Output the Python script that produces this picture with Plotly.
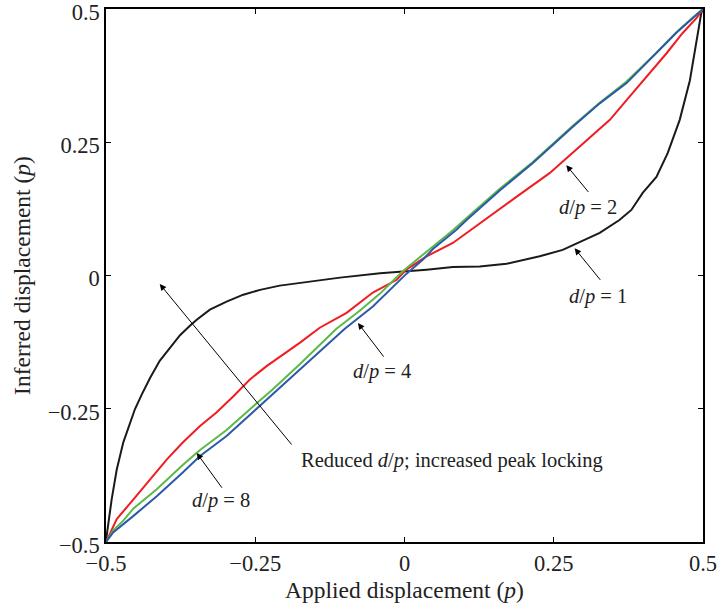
import plotly.graph_objects as go

# d/p = 1 (black)
x_dp1 = [-0.5, -0.499, -0.4905, -0.482, -0.471, -0.46, -0.4516, -0.44, -0.426, -0.41, -0.393, -0.376,
         -0.359, -0.348, -0.326, -0.298, -0.270, -0.242, -0.209, -0.175, -0.142, -0.108, -0.041, 0.003,
         0.037, 0.081, 0.126, 0.171, 0.2265, 0.265, 0.327, 0.360, 0.380, 0.399, 0.422, 0.441, 0.461,
         0.478, 0.489, 0.497, 0.5]
y_dp1 = [-0.5, -0.489, -0.42, -0.364, -0.313, -0.276, -0.251, -0.223, -0.192, -0.160, -0.135, -0.112,
         -0.094, -0.083, -0.064, -0.049, -0.036, -0.027, -0.019, -0.014, -0.008, -0.004, 0.004, 0.0075,
         0.011, 0.016, 0.017, 0.022, 0.036, 0.048, 0.080, 0.104, 0.123, 0.155, 0.185, 0.230, 0.292,
         0.366, 0.436, 0.492, 0.5]

# d/p = 2 (red)
x_dp2 = [-0.5, -0.482, -0.454, -0.426, -0.398, -0.371, -0.343, -0.315, -0.287, -0.259, -0.231, -0.203,
         -0.175, -0.142, -0.097, -0.053, -0.013, 0.003, 0.037, 0.081, 0.104, 0.137, 0.188, 0.243, 0.305,
         0.344, 0.372, 0.411, 0.439, 0.466, 0.489, 0.5]
y_dp2 = [-0.5, -0.457, -0.42, -0.383, -0.345, -0.313, -0.283, -0.257, -0.227, -0.195, -0.170, -0.148,
         -0.126, -0.098, -0.070, -0.032, -0.008, 0.011, 0.036, 0.061, 0.080, 0.106, 0.148, 0.192, 0.254,
         0.292, 0.329, 0.380, 0.417, 0.455, 0.483, 0.5]

# d/p = 4 (green)
x_dp4 = [-0.5, -0.488, -0.471, -0.454, -0.415, -0.371, -0.343, -0.298, -0.248, -0.221, -0.175, -0.114,
         -0.075, -0.041, -0.003, 0.053, 0.081, 0.104, 0.160, 0.215, 0.282, 0.327, 0.372, 0.422, 0.455,
         0.483, 0.5]
y_dp4 = [-0.5, -0.478, -0.46, -0.437, -0.401, -0.355, -0.328, -0.29, -0.24, -0.214, -0.166, -0.100,
         -0.066, -0.034, 0.008, 0.059, 0.085, 0.108, 0.163, 0.213, 0.281, 0.324, 0.364, 0.418, 0.456,
         0.484, 0.5]

# d/p = 8 (blue)
x_dp8 = [-0.5, -0.488, -0.454, -0.415, -0.371, -0.343, -0.298, -0.248, -0.203, -0.175, -0.100, -0.053,
         -0.013, 0.003, 0.031, 0.048, 0.087, 0.104, 0.160, 0.215, 0.282, 0.327, 0.372, 0.422, 0.455,
         0.483, 0.5]
y_dp8 = [-0.5, -0.482, -0.451, -0.414, -0.369, -0.339, -0.301, -0.250, -0.204, -0.176, -0.100, -0.058,
         -0.015, 0.003, 0.030, 0.050, 0.086, 0.104, 0.160, 0.211, 0.279, 0.323, 0.361, 0.417, 0.455,
         0.483, 0.5]

tick_vals = [-0.5, -0.25, 0, 0.25, 0.5]
tick_text = ["\u22120.5", "\u22120.25", "0", "0.25", "0.5"]

FONT = "Liberation Serif, Times New Roman, serif"

fig = go.Figure()
for xs, ys, col in [(x_dp1, y_dp1, "#1a1a1a"), (x_dp2, y_dp2, "#f01c24"),
                    (x_dp4, y_dp4, "#5cb947"), (x_dp8, y_dp8, "#2c59a8")]:
    fig.add_trace(go.Scatter(x=xs, y=ys, mode="lines", line=dict(color=col, width=2),
                             showlegend=False, hoverinfo="skip"))

arrows = [
    ((0.271, 0.207), (0.310, 0.154)),
    ((0.285, 0.051), (0.330, -0.011)),
    ((-0.078, -0.089), (-0.033, -0.155)),
    ((-0.348, -0.333), (-0.304, -0.401)),
    ((-0.410, -0.016), (-0.187, -0.320)),
]
for (hx, hy), (tx, ty) in arrows:
    fig.add_annotation(x=hx, y=hy, ax=tx, ay=ty, xref="x", yref="y", axref="x", ayref="y",
                       text="", showarrow=True, arrowhead=2, arrowsize=1.3, arrowwidth=1,
                       arrowcolor="black")

labels = [
    (0.307, 0.127, "<i>d</i>/<i>p</i> = 2"),
    (0.324, -0.039, "<i>d</i>/<i>p</i> = 1"),
    (-0.037, -0.180, "<i>d</i>/<i>p</i> = 4"),
    (-0.308, -0.423, "<i>d</i>/<i>p</i> = 8"),
    (0.079, -0.347, "Reduced <i>d</i>/<i>p</i>; increased peak locking"),
]
for lx, ly, t in labels:
    fig.add_annotation(x=lx, y=ly, xref="x", yref="y", text=t, showarrow=False,
                       font=dict(family=FONT, size=20.5, color="#222"))

axis_common = dict(range=[-0.5, 0.5], tickvals=tick_vals, ticktext=tick_text,
                   ticks="inside", ticklen=5, tickcolor="black", tickwidth=1,
                   showline=True, linecolor="black", linewidth=1.5, mirror="allticks",
                   showgrid=False, zeroline=False, automargin=False,
                   ticklabeloverflow="allow",
                   tickfont=dict(family=FONT, size=22.5, color="#222"))

fig.update_layout(
    width=721, height=613,
    margin=dict(l=106, r=18, t=9, b=71),
    plot_bgcolor="white", paper_bgcolor="white",
    xaxis=dict(**axis_common,
               title=dict(text="Applied displacement (<i>p</i>)",
                          font=dict(family=FONT, size=23.5, color="#222"), standoff=7)),
    yaxis=dict(**axis_common, ticklabelshift=3,
               title=dict(text="Inferred displacement (<i>p</i>)",
                          font=dict(family=FONT, size=23.5, color="#222"), standoff=10)),
)

fig.write_html("out.html")
